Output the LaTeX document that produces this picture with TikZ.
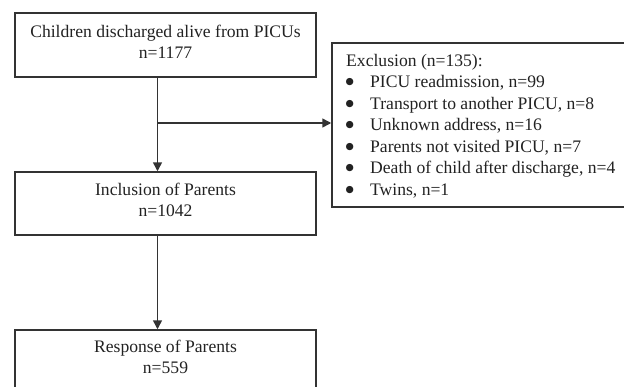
\documentclass[tikz,border=0pt]{standalone}
\usepackage{fontspec}
\setmainfont{Liberation Serif}
\newfontfamily\symfont{DejaVu Sans}
\usetikzlibrary{arrows.meta}
\definecolor{ink}{HTML}{222222}
\definecolor{linec}{HTML}{333333}
\tikzset{
  box/.style={draw=linec, line width=1.5pt, inner sep=0pt, fill=none},
  txt/.style={text=ink, inner sep=0pt, font=\fontsize{17.6}{21}\selectfont},
  conn/.style={draw=linec, line width=1.5pt},
  arr/.style={conn, -{Triangle[length=9pt,width=9pt]}}
}
\newcommand{\blt}{\makebox[24pt][l]{\hspace*{-0.5pt}\raisebox{2.8pt}{\symfont\fontsize{9.5}{11}\selectfont ●}}}
\begin{document}
\begin{tikzpicture}[x=1pt,y=-1pt]
\useasboundingbox (0,0) rectangle (624,386);
\clip (0,0) rectangle (624,386);
% main boxes
\node[box, minimum width=301pt, minimum height=64pt] (b1) at (165.5,45) {};
\node[txt, anchor=base] (t1a) at (165.5,37) {Children discharged alive from PICUs};
\node[txt, anchor=base] (t1b) at (165.5,58) {n=1177};
\node[box, minimum width=301pt, minimum height=63pt] (b2) at (165.5,203.5) {};
\node[txt, anchor=base] (t2a) at (165.5,195) {Inclusion of Parents};
\node[txt, anchor=base] (t2b) at (165.5,216) {n=1042};
\node[box, minimum width=301pt, minimum height=64pt] (b3) at (165.5,362) {};
\node[txt, anchor=base] (t3a) at (165.5,352) {Response of Parents};
\node[txt, anchor=base] (t3b) at (165.5,373) {n=559};
% exclusion box
\node[box, minimum width=300pt, minimum height=164pt] (ex) at (482,125) {};
\node[txt, anchor=base west] (e0) at (346,66) {Exclusion (n=135):};
\node[txt, anchor=base west] (e1) at (346,87.5) {\blt PICU readmission, n=99};
\node[txt, anchor=base west] (e2) at (346,109) {\blt Transport to another PICU, n=8};
\node[txt, anchor=base west] (e3) at (346,130.5) {\blt Unknown address, n=16};
\node[txt, anchor=base west] (e4) at (346,152) {\blt Parents not visited PICU, n=7};
\node[txt, anchor=base west] (e5) at (346,173.5) {\blt Death of child after discharge, n=4};
\node[txt, anchor=base west] (e6) at (346,195) {\blt Twins, n=1};
% connectors
\coordinate (vx) at (157.5,0);
\coordinate (hy) at (0,123);
\draw[arr] (b1.south -| vx) -- (b2.north -| vx);
\draw[arr] (vx |- hy) -- (ex.west |- hy);
\draw[arr] (b2.south -| vx) -- (b3.north -| vx);
\end{tikzpicture}
\end{document}
